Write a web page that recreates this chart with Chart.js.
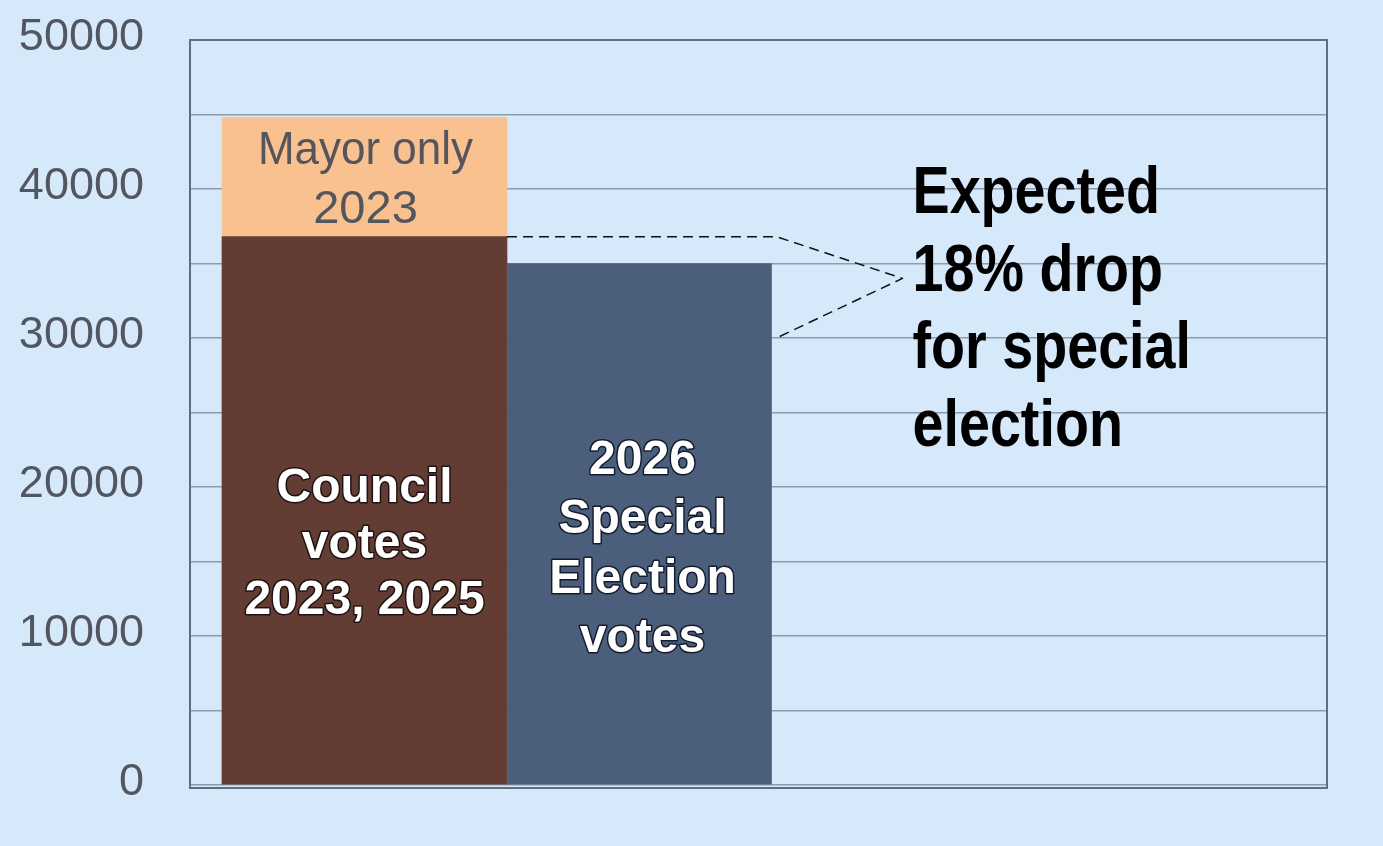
<!DOCTYPE html>
<html>
<head>
<meta charset="utf-8">
<script src="https://cdn.jsdelivr.net/npm/chart.js@4.4.1/dist/chart.umd.min.js"></script>
<style>
  html, body { margin: 0; padding: 0; background: #d5e9fb; }
  canvas { display: block; }
</style>
</head>
<body>
<canvas id="chart" width="1383" height="846"></canvas>
<script>
// values
var categories   = ["2023 / 2025", "2026", "", ""];
var councilVotes = [36800, null, null, null];
var mayorOnly    = [8000, null, null, null];   // stacked on top of council -> 44800
var specialVotes = [null, 35000, null, null];
var yTickLabels  = [0, 10000, 20000, 30000, 40000, 50000];

var councilText = ["Council", "votes", "2023, 2025"];
var mayorText   = ["Mayor only", "2023"];
var specialText = ["2026", "Special", "Election", "votes"];
var noteText    = ["Expected", "18% drop", "for special", "election"];
var dropFrom    = 36800;
var dropTo      = 30000;   // 18% below council votes
var dropApex    = 34000;

var GRID = "#8d9bab";
var BOX  = "#5f6e80";
var FRAME_GAP = 37;   // frame starts this far left of the plot area

function drawLines(ctx, lines, x, yFirst, step, font, fill, stroke, maxW)
{
        ctx.font = font;
        ctx.textAlign = "center";
        ctx.textBaseline = "alphabetic";
        for (var i = 0; i < lines.length; i++) {
                var y = yFirst + i * step;
                if (stroke) {
                        ctx.lineWidth = 3;
                        ctx.lineJoin = "round";
                        ctx.strokeStyle = stroke;
                        ctx.strokeText(lines[i], x, y);
                }
                ctx.fillStyle = fill;
                if (maxW) {
                        ctx.fillText(lines[i], x, y, maxW);
                } else {
                        ctx.fillText(lines[i], x, y);
                }
        }
}

var decor = {
        id: "decor",
        beforeDatasetsDraw: function(chart) {
                var a = chart.chartArea;
                var ctx = chart.ctx;
                ctx.save();
                ctx.strokeStyle = BOX;
                ctx.lineWidth = 2;
                ctx.strokeRect(a.left - FRAME_GAP, a.top, a.right - a.left + FRAME_GAP, a.bottom - a.top + 3);
                ctx.restore();
        },
        afterDatasetsDraw: function(chart) {
                var ctx = chart.ctx;
                var ys = chart.scales.y;
                var xs = chart.scales.x;
                var council = chart.getDatasetMeta(0).data[0];
                var mayor   = chart.getDatasetMeta(1).data[0];
                var special = chart.getDatasetMeta(2).data[1];

                ctx.save();

                drawLines(ctx, mayorText, mayor.x + 1, (mayor.y + mayor.base) / 2 - 13, 59,
                          "47px 'Liberation Sans', Arial, sans-serif", "#54565b", null, 215);

                var cMid = (council.y + council.base) / 2 + 28;
                drawLines(ctx, councilText, council.x, cMid - 36, 56,
                          "bold 48px 'Liberation Sans', Arial, sans-serif", "#ffffff", "rgba(20,10,10,0.85)");

                var sMid = (special.y + special.base) / 2 + 28;
                drawLines(ctx, specialText, special.x + 3, sMid - 78, 59.5,
                          "bold 48px 'Liberation Sans', Arial, sans-serif", "#ffffff", "rgba(10,15,30,0.85)");

                // dashed leader lines to the note
                var noteX = xs.getPixelForValue(2) - 2;
                var elbowX = special.x + special.width / 2 + 5;
                var apexX = noteX - 10;
                var apexY = ys.getPixelForValue(dropApex);
                ctx.strokeStyle = "#111111";
                ctx.lineWidth = 1.5;
                ctx.setLineDash([10, 6]);
                ctx.beginPath();
                ctx.moveTo(council.x + council.width / 2, ys.getPixelForValue(dropFrom));
                ctx.lineTo(elbowX, ys.getPixelForValue(dropFrom));
                ctx.lineTo(apexX, apexY);
                ctx.lineTo(elbowX, ys.getPixelForValue(dropTo));
                ctx.stroke();
                ctx.setLineDash([]);

                // note text, drawn a little taller than wide
                ctx.font = "bold 58px 'Liberation Sans', Arial, sans-serif";
                ctx.textAlign = "left";
                ctx.fillStyle = "#000000";
                for (var i = 0; i < noteText.length; i++) {
                        ctx.save();
                        ctx.translate(noteX, 213 + i * 77.5);
                        ctx.scale(0.96, 1.15);
                        ctx.fillText(noteText[i], 0, 0);
                        ctx.restore();
                }

                ctx.restore();
        }
};

var MyChart = new Chart(document.getElementById("chart"), {
        type: "bar",
        data: {
                labels: categories,
                datasets: [{
                        label: "Council votes 2023, 2025",
                        data: councilVotes,
                        backgroundColor: "#633c34",
                        borderWidth: 0,
                        barThickness: 285,
                        clip: false
                }, {
                        label: "Mayor only 2023",
                        data: mayorOnly,
                        backgroundColor: "#f9c090",
                        borderWidth: 0,
                        barThickness: 285,
                        clip: false
                }, {
                        label: "2026 Special Election votes",
                        data: specialVotes,
                        backgroundColor: "#4b5f7c",
                        borderWidth: 0,
                        barThickness: 264
                }]
        },
        options: {
                responsive: false,
                animation: false,
                devicePixelRatio: 1,
                layout: { padding: { top: 40, right: 56, bottom: 61, left: 0 } },
                plugins: {
                        legend: { display: false },
                        tooltip: { enabled: false }
                },
                datasets: {
                        bar: { barPercentage: 1, categoryPercentage: 1 }
                },
                scales: {
                        x: {
                                stacked: true,
                                display: false
                        },
                        y: {
                                stacked: true,
                                min: 0,
                                max: 50000,
                                afterFit: function(scale) {
                                        scale.width = 227;
                                        scale.paddingTop = 0;
                                        scale.paddingBottom = 0;
                                },
                                border: { display: false },
                                grid: {
                                        color: GRID,
                                        lineWidth: 1.5,
                                        drawTicks: true,
                                        tickLength: FRAME_GAP
                                },
                                ticks: {
                                        stepSize: 5000,
                                        padding: 46,
                                        labelOffset: -2,
                                        color: "#52575f",
                                        font: { family: "'Liberation Sans', Arial, sans-serif", size: 45 },
                                        callback: function(v) {
                                                return yTickLabels.indexOf(v) >= 0 ? String(v) : "";
                                        }
                                }
                        }
                }
        },
        plugins: [decor]
});
</script>
</body>
</html>
